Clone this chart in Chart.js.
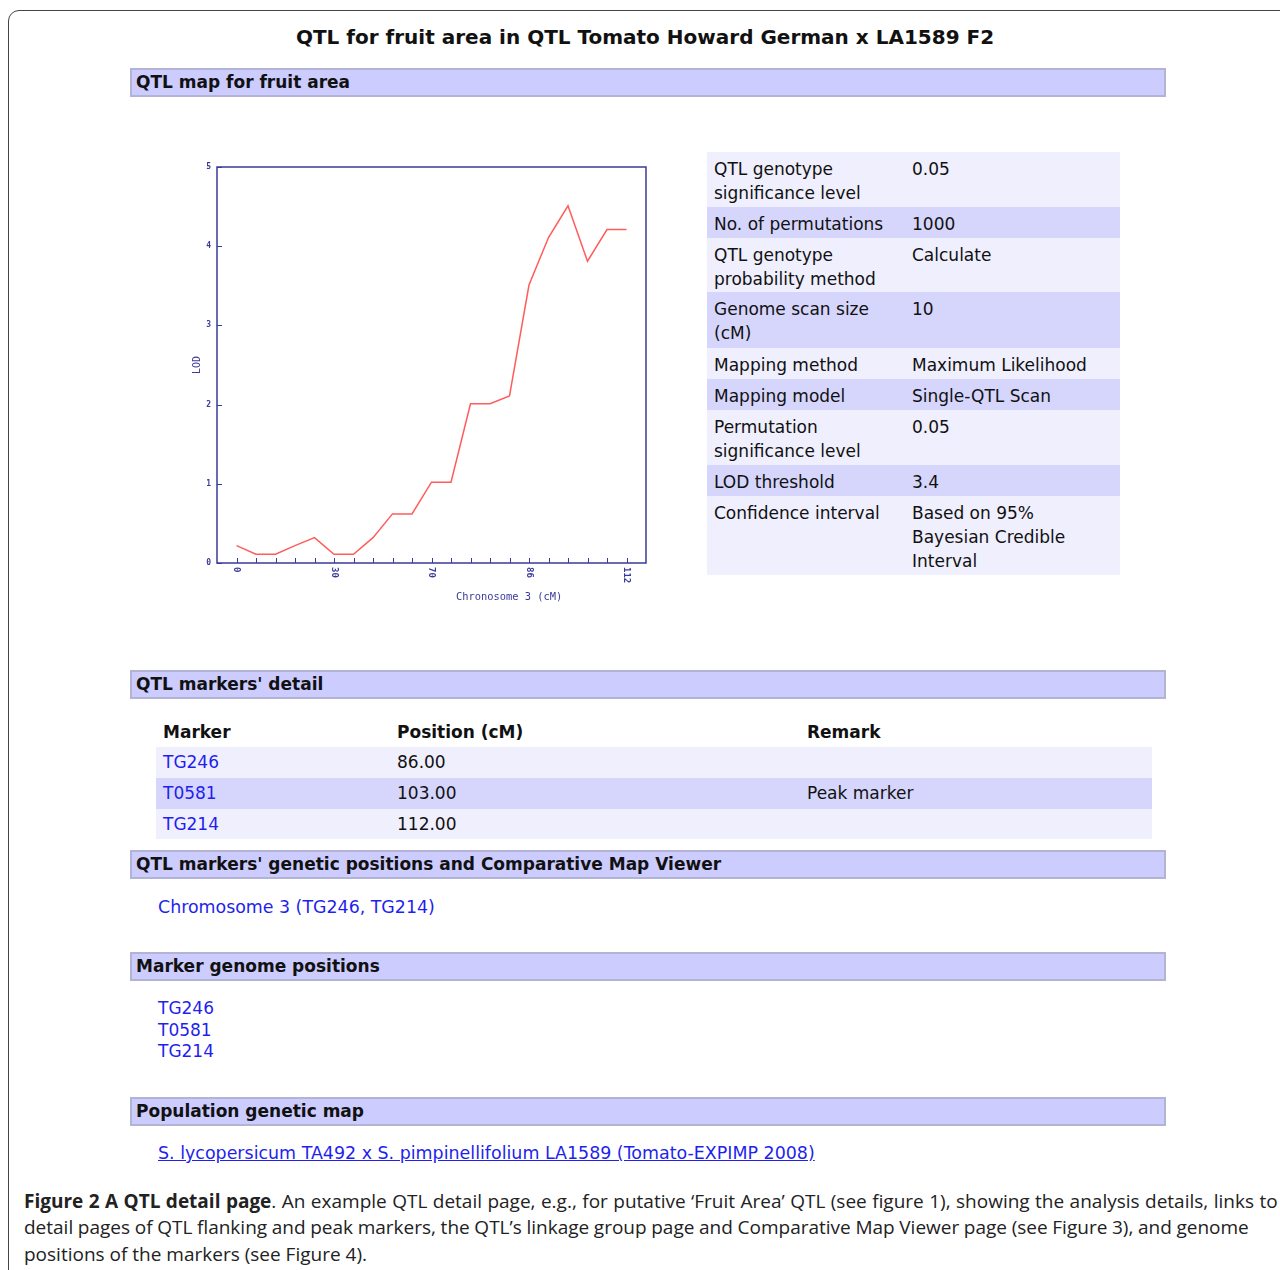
<!DOCTYPE html>
<html>
<head>
<meta charset="utf-8">
<script src="https://cdn.jsdelivr.net/npm/chart.js@4.4.1/dist/chart.umd.min.js"></script>
<style>
  html,body{margin:0;padding:0;background:#fff;}
  body{width:1280px;height:1270px;position:relative;overflow:hidden;font-family:"DejaVu Sans",Verdana,sans-serif;color:#111;}
  .frame{position:absolute;left:8px;top:10px;width:1300px;height:1300px;border:1px solid #444;border-top-left-radius:11px;box-sizing:border-box;}
  .title{position:absolute;left:0;width:1290px;top:24px;text-align:center;font-weight:bold;font-size:20px;line-height:26px;}
  .sec{position:absolute;left:130px;width:1036px;height:29px;box-sizing:border-box;background:#ccccff;border:2px solid #b3b3d6;font-weight:bold;font-size:17px;line-height:25px;padding-left:4px;}
  .abs{position:absolute;}
  .ptab{position:absolute;left:707px;top:152px;width:413px;}
  .ptab .r{position:relative;box-sizing:border-box;font-size:17px;line-height:24px;}
  .ptab .c1{position:absolute;left:7px;top:5px;width:195px;}
  .ptab .c2{position:absolute;left:205px;top:5px;width:205px;}
  .light{background:#efeffe;}
  .dark{background:#d6d6fd;}
  a,.lnk{color:#1f1fee;text-decoration:none;}
  .mrow{position:absolute;left:156px;width:996px;height:31px;font-size:17px;line-height:31px;}
  .mrow span{position:absolute;}
  .cap{position:absolute;left:24px;font-family:"Open Sans","Noto Sans",sans-serif;font-size:19px;white-space:nowrap;color:#222;line-height:26px;}
</style>
</head>
<body>
<div class="frame"></div>
<div class="title">QTL for fruit area in QTL Tomato Howard German x LA1589 F2</div>

<div class="sec" style="top:68px;">QTL map for fruit area</div>

<div class="abs" style="left:180px;top:155px;width:480px;height:460px;">
  <canvas id="c"></canvas>
</div>

<div class="ptab" id="ptab"></div>

<div class="sec" style="top:670px;">QTL markers' detail</div>
<div class="mrow" style="top:717px;font-weight:bold;"><span style="left:7px;">Marker</span><span style="left:241px;">Position (cM)</span><span style="left:651px;">Remark</span></div>
<div class="mrow light" style="top:747px;"><span class="lnk" style="left:7px;">TG246</span><span style="left:241px;">86.00</span></div>
<div class="mrow dark" style="top:778px;"><span class="lnk" style="left:7px;">T0581</span><span style="left:241px;">103.00</span><span style="left:651px;">Peak marker</span></div>
<div class="mrow light" style="top:809px;height:30px;"><span class="lnk" style="left:7px;">TG214</span><span style="left:241px;">112.00</span></div>

<div class="sec" style="top:850px;">QTL markers' genetic positions and Comparative Map Viewer</div>
<div class="abs lnk" style="left:158px;top:895px;font-size:17.4px;line-height:24px;">Chromosome 3 (TG246, TG214)</div>

<div class="sec" style="top:952px;">Marker genome positions</div>
<div class="abs lnk" style="left:158px;top:998px;font-size:17px;line-height:21.5px;">TG246<br>T0581<br>TG214</div>

<div class="sec" style="top:1097px;">Population genetic map</div>
<div class="abs lnk" style="left:158px;top:1141px;font-size:17.45px;line-height:24px;text-decoration:underline;">S. lycopersicum TA492 x S. pimpinellifolium LA1589 (Tomato-EXPIMP 2008)</div>

<div class="cap" style="top:1188px;word-spacing:0.5px;"><b>Figure 2 A QTL detail page</b>. An example QTL detail page, e.g., for putative ‘Fruit Area’ QTL (see figure 1), showing the analysis details, links to</div>
<div class="cap" style="top:1214px;word-spacing:-0.3px;">detail pages of QTL flanking and peak markers, the QTL’s linkage group page and Comparative Map Viewer page (see Figure 3), and genome</div>
<div class="cap" style="top:1241px;">positions of the markers (see Figure 4).</div>

<script>
// ---- data ----
const positionLabels = ['0','','','','','30','','','','','70','','','','','86','','','','','112'];
const lodValues = [0.22,0.11,0.11,0.22,0.32,0.11,0.11,0.32,0.62,0.62,1.02,1.02,2.01,2.01,2.11,3.51,4.11,4.51,3.81,4.21,4.21];
const yTickValues = [0,1,2,3,4,5];
const paramNames = ['QTL genotype<br>significance level','No. of permutations','QTL genotype<br>probability method','Genome scan size<br>(cM)','Mapping method','Mapping model','Permutation<br>significance level','LOD threshold','Confidence interval'];
const paramValues = ['0.05','1000','Calculate','10','Maximum Likelihood','Single-QTL Scan','0.05','3.4','Based on 95%<br>Bayesian Credible<br>Interval'];
const paramRowHeights = [55,31,54,56,31,31,55,31,79];

// ---- parameter table ----
const pt = document.getElementById('ptab');
paramNames.forEach((n,i)=>{
  const r = document.createElement('div');
  r.className = 'r ' + (i%2===0 ? 'light' : 'dark');
  r.style.height = paramRowHeights[i] + 'px';
  r.innerHTML = '<div class="c1">'+n+'</div><div class="c2">'+paramValues[i]+'</div>';
  pt.appendChild(r);
});

// ---- chart ----
const axisColor = '#3a3a9a';
const deco = {
  id:'deco',
  afterDatasetsDraw(chart){
    const {ctx, chartArea:a, scales:{x,y}} = chart;
    ctx.save();
    ctx.strokeStyle = axisColor;
    ctx.lineWidth = 1.5;
    ctx.strokeRect(a.left, a.top, a.right-a.left, a.bottom-a.top);
    ctx.lineWidth = 1;
    ctx.beginPath();
    positionLabels.forEach((t,i)=>{
      const px = Math.round(x.getPixelForValue(i))+0.5;
      ctx.moveTo(px, a.bottom); ctx.lineTo(px, a.bottom-5);
    });
    yTickValues.forEach((v)=>{
      const py = Math.round(y.getPixelForValue(v))+0.5;
      ctx.moveTo(a.left, py); ctx.lineTo(a.left+5, py);
    });
    ctx.stroke();
    ctx.fillStyle = axisColor;
    ctx.font = 'bold 9px "DejaVu Sans Mono", monospace';
    ctx.textAlign = 'left';
    ctx.textBaseline = 'middle';
    positionLabels.forEach((lbl,i)=>{
      if(!lbl) return;
      const px = x.getPixelForValue(i);
      ctx.save();
      ctx.translate(px, a.bottom+4);
      ctx.rotate(Math.PI/2);
      ctx.fillText(lbl, 0, 0);
      ctx.restore();
    });
    ctx.font = '10.4px "DejaVu Sans Mono", monospace';
    ctx.textAlign = 'center';
    ctx.fillText('Chronosome 3 (cM)', a.left + (a.right-a.left)*0.681, a.bottom + 34);
    ctx.restore();
  }
};

new Chart(document.getElementById('c'), {
  type:'line',
  data:{
    datasets:[{
      data: lodValues.map((v,i)=>({x:i,y:v})),
      borderColor:'#ff5c5c',
      borderWidth:1.5,
      pointRadius:0,
      tension:0,
      fill:false
    }]
  },
  options:{
    responsive:true,
    maintainAspectRatio:false,
    animation:false,
    layout:{padding:{top:12,right:14,left:0,bottom:0}},
    plugins:{legend:{display:false},tooltip:{enabled:false}},
    scales:{
      x:{
        type:'linear',
        min:-1,max:positionLabels.length,
        grid:{display:false,drawTicks:false},
        border:{display:false},
        ticks:{display:false,stepSize:1},
        afterFit(s){ s.height = 52; }
      },
      y:{
        min:0,max:5,
        afterBuildTicks(s){ s.ticks = yTickValues.map(v=>({value:v})); },
        grid:{display:false,drawTicks:false},
        border:{display:false},
        ticks:{color:axisColor,font:{size:8,weight:'bold',family:'"DejaVu Sans Mono", monospace'},padding:6},
        title:{display:true,text:'LOD',color:axisColor,font:{size:10,family:'"DejaVu Sans Mono", monospace'},padding:{top:11,bottom:0}},
        afterFit(s){ s.width = 37; }
      }
    }
  },
  plugins:[deco]
});
</script>
</body>
</html>
